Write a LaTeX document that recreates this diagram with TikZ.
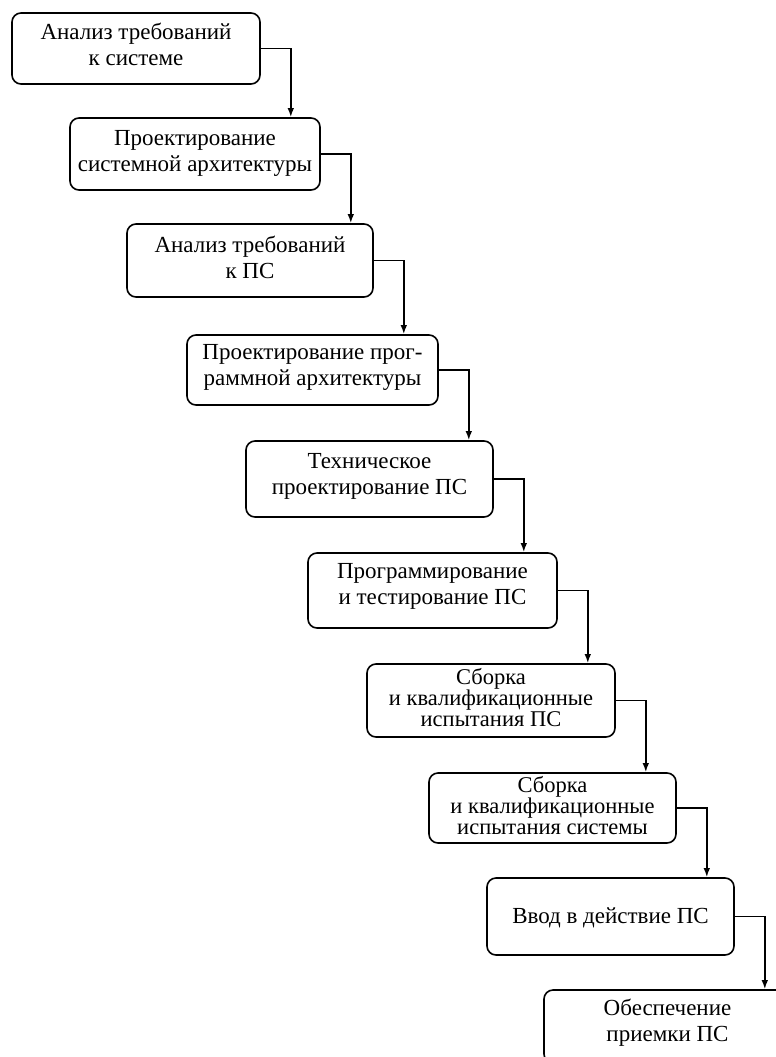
\documentclass[tikz,border=0pt]{standalone}
\usepackage{fontspec}
\setmainfont{Liberation Serif}
\usetikzlibrary{arrows.meta}

\tikzset{
  stage/.style={draw=black, line width=1.6pt, rounded corners=9pt, inner sep=0pt},
  caption/.style={align=center, inner sep=0pt, font=\fontsize{23}{26}\selectfont},
  tight/.style={font=\fontsize{22.5}{21}\selectfont},
  flow/.style={line width=1.6pt, -{Latex[length=9pt,width=6.5pt]}}
}

\begin{document}
\begin{tikzpicture}[x=1pt,y=-1pt]
  \useasboundingbox (0,0) rectangle (776,1057);

  % stage frames
  \node[stage, minimum width=248pt, minimum height=71pt] (s1) at (136,48.5) {};
  \node[stage, minimum width=250pt, minimum height=72pt] (s2) at (195,154) {};
  \node[stage, minimum width=246pt, minimum height=73pt] (s3) at (250,260.5) {};
  \node[stage, minimum width=251pt, minimum height=70pt] (s4) at (312.5,370) {};
  \node[stage, minimum width=247pt, minimum height=76pt] (s5) at (369.5,479) {};
  \node[stage, minimum width=249pt, minimum height=75pt] (s6) at (432.5,590.5) {};
  \node[stage, minimum width=248pt, minimum height=73pt] (s7) at (491,700.5) {};
  \node[stage, minimum width=247pt, minimum height=70pt] (s8) at (552.5,808) {};
  \node[stage, minimum width=247pt, minimum height=77pt] (s9) at (610.5,916.5) {};
  \node[stage, minimum width=247pt, minimum height=73pt] (s10) at (667.5,1026.5) {};

  % stage captions
  \node[caption] (t1) at ([yshift=4pt]s1.center) {Анализ требований\\к системе};
  \node[caption] (t2) at ([yshift=1pt]s2.center) {Проектирование\\системной архитектуры};
  \node[caption] (t3) at ([yshift=3pt]s3.center) {Анализ требований\\к ПС};
  \node[caption] (t4) at ([yshift=3pt]s4.center) {Проектирование прог-\\раммной архитектуры};
  \node[caption] (t5) at ([yshift=3pt]s5.center) {Техническое\\проектирование ПС};
  \node[caption] (t6) at ([yshift=4pt]s6.center) {Программирование\\и тестирование ПС};
  \node[caption, tight] (t7) at ([yshift=3pt]s7.center) {Сборка\\и квалификационные\\испытания ПС};
  \node[caption, tight] (t8) at ([yshift=2pt]s8.center) {Сборка\\и квалификационные\\испытания системы};
  \node[caption] (t9) at ([yshift=-1pt]s9.center) {Ввод в действие ПС};
  \node[caption] (t10) at ([yshift=4pt]s10.center) {Обеспечение\\приемки ПС};

  % step connectors: right, then down onto the next stage
  \foreach \a/\b in {s1/s2,s2/s3,s3/s4,s4/s5,s5/s6,s6/s7,s7/s8,s8/s9,s9/s10}
    \draw[flow] (\a.east) -| ([xshift=30pt]\a.east |- \b.north);
\end{tikzpicture}
\end{document}
